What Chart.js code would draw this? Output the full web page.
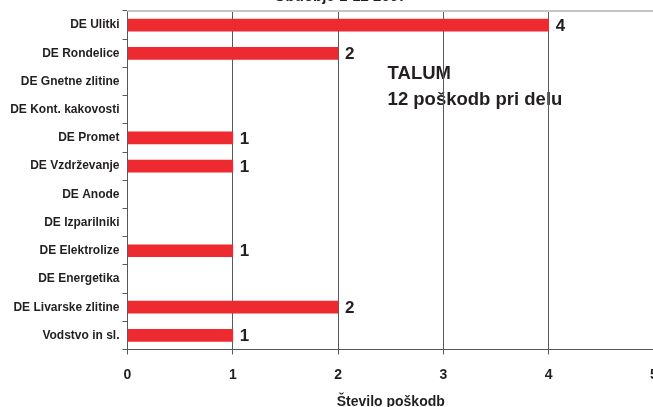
<!DOCTYPE html>
<html>
<head>
<meta charset="utf-8">
<script src="https://cdn.jsdelivr.net/npm/chart.js@4"></script>
<style>
  html, body { margin: 0; padding: 0; overflow: hidden; background: #fff; width: 653px; height: 407px; }
  #wrap { position: absolute; left: 0; top: 0; width: 680px; height: 414px; }
</style>
</head>
<body>
<div id="wrap"><canvas id="c" width="680" height="414"></canvas></div>
<script>
// Injuries at work by business unit
const categories = [
  'DE Ulitki', 'DE Rondelice', 'DE Gnetne zlitine', 'DE Kont. kakovosti',
  'DE Promet', 'DE Vzdrževanje', 'DE Anode', 'DE Izparilniki',
  'DE Elektrolize', 'DE Energetika', 'DE Livarske zlitine', 'Vodstvo in sl.'
];
const injuries = [4, 2, null, null, 1, 1, null, null, 1, null, 2, 1];
const xTicks = [0, 1, 2, 3, 4, 5];
const chartTitle = 'Obdobje 1-12 2007';
const noteLines = ['TALUM', '12 poškodb pri delu'];
const axisTitle = 'Število poškodb';

const textColor = '#231f20';
const fontFamily = '"Liberation Sans", Arial, sans-serif';

// Note text behind the grid, title above the plot, light top border
const backdrop = {
  id: 'backdrop',
  beforeDraw(chart) {
    const ctx = chart.ctx;
    const x = chart.scales.x;
    const y = chart.scales.y;
    ctx.save();
    ctx.fillStyle = textColor;
    ctx.font = 'bold 18.5px ' + fontFamily;
    ctx.textAlign = 'left';
    ctx.textBaseline = 'middle';
    const nx = x.getPixelForValue(2.47);
    ctx.fillText(noteLines[0], nx, y.getPixelForValue(2) - 8);
    ctx.fillText(noteLines[1], nx, y.getPixelForValue(3) - 10);
    ctx.font = 'bold 15px ' + fontFamily;
    ctx.textAlign = 'center';
    ctx.textBaseline = 'alphabetic';
    ctx.fillText(chartTitle, x.getPixelForValue(2.02), 1);
    ctx.restore();
  },
  afterDraw(chart) {
    const ctx = chart.ctx;
    const a = chart.chartArea;
    ctx.save();
    ctx.strokeStyle = '#c3c6ca';
    ctx.lineWidth = 2;
    ctx.beginPath();
    ctx.moveTo(a.left, a.top);
    ctx.lineTo(a.right + 30, a.top);
    ctx.stroke();
    ctx.restore();
  }
};

// Value written just past the end of each bar
const valueLabels = {
  id: 'valueLabels',
  afterDatasetsDraw(chart) {
    const ctx = chart.ctx;
    const meta = chart.getDatasetMeta(0);
    ctx.save();
    ctx.fillStyle = textColor;
    ctx.font = 'bold 17px ' + fontFamily;
    ctx.textAlign = 'left';
    ctx.textBaseline = 'middle';
    meta.data.forEach((bar, i) => {
      const v = injuries[i];
      if (v == null) return;
      ctx.fillText(String(v), bar.x + 7, bar.y + 1);
    });
    ctx.restore();
  }
};

new Chart(document.getElementById('c'), {
  type: 'bar',
  data: {
    labels: categories,
    datasets: [{
      data: injuries,
      backgroundColor: '#ec2a2f',
      borderWidth: 0,
      barThickness: 12
    }]
  },
  plugins: [backdrop, valueLabels],
  options: {
    indexAxis: 'y',
    responsive: false,
    animation: false,
    layout: { padding: { top: 11, right: 26, left: 0, bottom: 0 } },
    plugins: { legend: { display: false }, tooltip: { enabled: false }, title: { display: false } },
    scales: {
      x: {
        type: 'linear',
        min: xTicks[0],
        max: xTicks[xTicks.length - 1],
        afterBuildTicks(scale) { scale.ticks = xTicks.map(v => ({ value: v })); },
        afterFit(scale) { scale.height = 64.5; },
        grid: { color: '#58595b', lineWidth: 1, tickLength: 5, drawTicks: true },
        border: { color: '#58595b', width: 1 },
        ticks: { color: textColor, font: { family: fontFamily, size: 14, weight: 'bold' }, padding: 12, maxRotation: 0 },
        title: {
          display: true, text: axisTitle, color: textColor,
          font: { family: fontFamily, size: 14, weight: 'bold' }, padding: { top: 0, bottom: 3 }
        }
      },
      y: {
        type: 'category',
        afterFit(scale) { scale.width = 127.5; },
        grid: { offset: true, drawOnChartArea: false, tickLength: 5, color: '#58595b' },
        border: { color: '#58595b', width: 1 },
        ticks: { color: textColor, font: { family: fontFamily, size: 12, weight: 'bold' }, padding: 3, autoSkip: false }
      }
    }
  }
});
</script>
</body>
</html>
